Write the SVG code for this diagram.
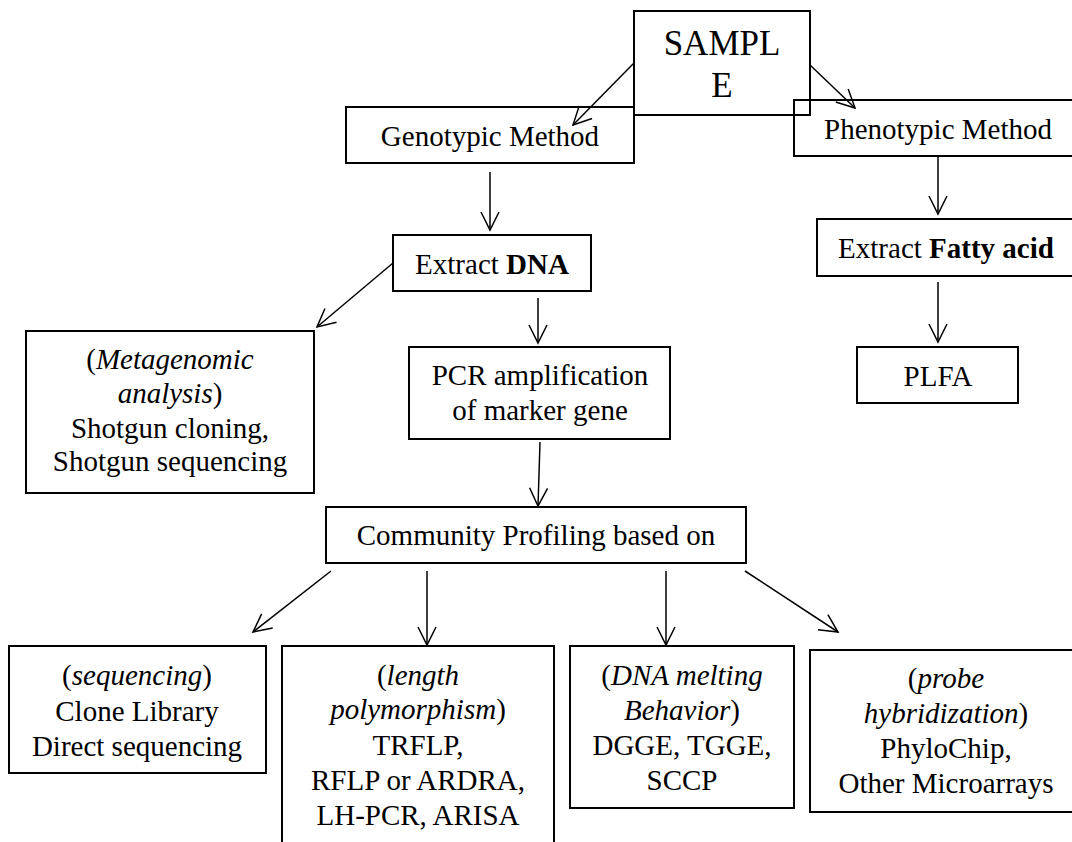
<svg xmlns="http://www.w3.org/2000/svg" width="1072" height="842" viewBox="0 0 1072 842">
<style>
  .box { fill: none; stroke: #000; stroke-width: 2; }
  .t { font-family: "Liberation Serif", "Times New Roman", serif; font-size: 29px; fill: #000; text-anchor: middle; }
  .big { font-size: 35px; }
  .b { font-weight: bold; }
  .i { font-style: italic; }
  .c { fill: none; stroke: #000; stroke-width: 1.5; marker-end: url(#arr); }
</style>
<defs>
  <marker id="arr" markerUnits="userSpaceOnUse" markerWidth="24" markerHeight="24" viewBox="-20 -12 24 24" refX="0" refY="0" orient="auto">
    <path d="M-18,-9 L0,0 L-18,9" fill="none" stroke="#000" stroke-width="1.5"/>
  </marker>
</defs>
<rect width="1072" height="842" fill="#fff"/>

<g id="sample">
  <rect class="box" x="634" y="11" width="176" height="104"/>
  <text class="t big" x="722" y="55">SAMPL</text>
  <text class="t big" x="722" y="97">E</text>
</g>
<g id="genotypic">
  <rect class="box" x="346" y="107" width="288" height="56"/>
  <text class="t" x="490" y="146">Genotypic Method</text>
</g>
<g id="phenotypic">
  <rect class="box" x="794" y="100" width="290" height="56"/>
  <text class="t" x="938" y="139">Phenotypic Method</text>
</g>
<g id="extract-dna">
  <rect class="box" x="393" y="235" width="198" height="56"/>
  <text class="t" x="492" y="274">Extract <tspan class="b">DNA</tspan></text>
</g>
<g id="extract-fatty">
  <rect class="box" x="817" y="219" width="260" height="57"/>
  <text class="t" x="946" y="258">Extract <tspan class="b">Fatty acid</tspan></text>
</g>
<g id="plfa">
  <rect class="box" x="857" y="347" width="161" height="56"/>
  <text class="t" x="938" y="386">PLFA</text>
</g>
<g id="metagenomic">
  <rect class="box" x="26" y="331" width="288" height="162"/>
  <text class="t" x="170" y="369">(<tspan class="i">Metagenomic</tspan></text>
  <text class="t" x="170" y="403"><tspan class="i">analysis</tspan>)</text>
  <text class="t" x="170" y="438">Shotgun cloning,</text>
  <text class="t" x="170" y="471">Shotgun sequencing</text>
</g>
<g id="pcr">
  <rect class="box" x="409" y="347" width="261" height="92"/>
  <text class="t" x="540" y="385">PCR amplification</text>
  <text class="t" x="540" y="420">of marker gene</text>
</g>
<g id="community">
  <rect class="box" x="326" y="507" width="420" height="56"/>
  <text class="t" x="536" y="545">Community Profiling based on</text>
</g>
<g id="sequencing">
  <rect class="box" x="9" y="646" width="257" height="127"/>
  <text class="t" x="137" y="685">(<tspan class="i">sequencing</tspan>)</text>
  <text class="t" x="137" y="721">Clone Library</text>
  <text class="t" x="137" y="756">Direct sequencing</text>
</g>
<g id="length">
  <rect class="box" x="282" y="646" width="272" height="210"/>
  <text class="t" x="418" y="685">(<tspan class="i">length</tspan></text>
  <text class="t" x="418" y="719"><tspan class="i">polymorphism</tspan>)</text>
  <text class="t" x="418" y="755">TRFLP,</text>
  <text class="t" x="418" y="790">RFLP or ARDRA,</text>
  <text class="t" x="418" y="825">LH-PCR, ARISA</text>
</g>
<g id="melting">
  <rect class="box" x="570" y="646" width="224" height="162"/>
  <text class="t" x="682" y="685">(<tspan class="i">DNA melting</tspan></text>
  <text class="t" x="682" y="720"><tspan class="i">Behavior</tspan>)</text>
  <text class="t" x="682" y="755">DGGE, TGGE,</text>
  <text class="t" x="682" y="790">SCCP</text>
</g>
<g id="probe">
  <rect class="box" x="810" y="650" width="272" height="162"/>
  <text class="t" x="946" y="688">(<tspan class="i">probe</tspan></text>
  <text class="t" x="946" y="723"><tspan class="i">hybridization</tspan>)</text>
  <text class="t" x="946" y="758">PhyloChip,</text>
  <text class="t" x="946" y="793">Other Microarrays</text>
</g>

<g id="connectors">
  <line class="c" x1="634" y1="63" x2="573" y2="125"/>
  <line class="c" x1="810" y1="65" x2="855" y2="108"/>
  <line class="c" x1="490" y1="172" x2="490" y2="230"/>
  <line class="c" x1="938" y1="155" x2="938" y2="214"/>
  <line class="c" x1="938" y1="282" x2="938" y2="342"/>
  <line class="c" x1="393" y1="263" x2="317" y2="327"/>
  <line class="c" x1="538" y1="298" x2="538" y2="343"/>
  <line class="c" x1="540" y1="442" x2="538" y2="506"/>
  <line class="c" x1="331" y1="571" x2="253" y2="632"/>
  <line class="c" x1="427" y1="571" x2="427" y2="645"/>
  <line class="c" x1="666" y1="571" x2="666" y2="645"/>
  <line class="c" x1="745" y1="571" x2="838" y2="632"/>
</g>
</svg>
